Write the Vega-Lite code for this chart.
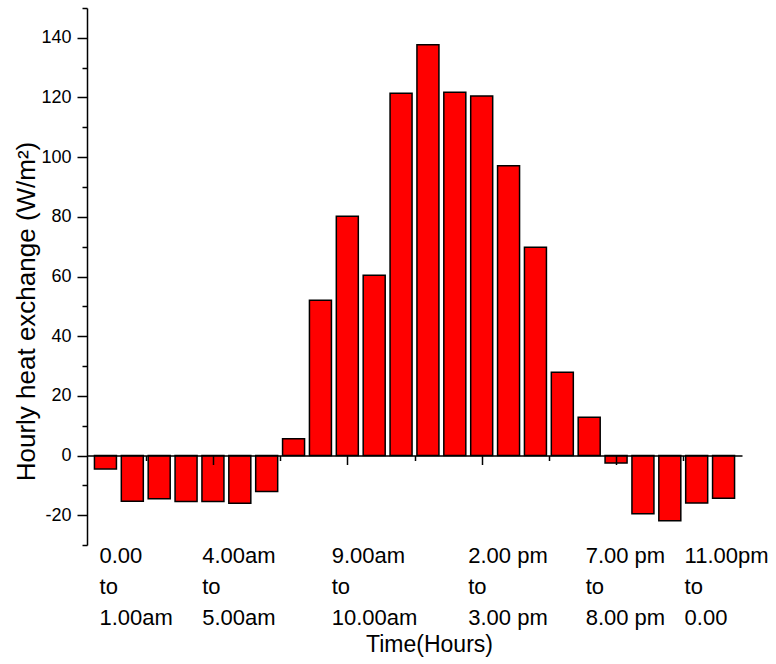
{
  "$schema": "https://vega.github.io/schema/vega-lite/v6.json",
  "width": 655,
  "height": 537,
  "autosize": "none",
  "padding": {"left": 87, "top": 8, "right": 34, "bottom": 119},
  "background": "white",
  "config": {"view": {"stroke": null}, "font": "Liberation Sans"},
  "datasets": {
    "heat": [
      {"hour": 1, "value": -4.5},
      {"hour": 2, "value": -15.3},
      {"hour": 3, "value": -14.5},
      {"hour": 4, "value": -15.4},
      {"hour": 5, "value": -15.4},
      {"hour": 6, "value": -16.0},
      {"hour": 7, "value": -12.1},
      {"hour": 8, "value": 5.6},
      {"hour": 9, "value": 52.0},
      {"hour": 10, "value": 80.2},
      {"hour": 11, "value": 60.4},
      {"hour": 12, "value": 121.4},
      {"hour": 13, "value": 137.7},
      {"hour": 14, "value": 121.8},
      {"hour": 15, "value": 120.5},
      {"hour": 16, "value": 97.1},
      {"hour": 17, "value": 69.8},
      {"hour": 18, "value": 27.9},
      {"hour": 19, "value": 12.8},
      {"hour": 20, "value": -2.5},
      {"hour": 21, "value": -19.5},
      {"hour": 22, "value": -21.9},
      {"hour": 23, "value": -15.9},
      {"hour": 24, "value": -14.3}
    ]
  },
  "resolve": {"axis": {"x": "independent", "y": "independent"}},
  "layer": [
    {
      "data": {"name": "heat"},
      "mark": {"type": "bar", "orient": "vertical", "width": 22, "fill": "#ff0000", "stroke": "black", "strokeWidth": 1.5},
      "encoding": {
        "x": {
          "field": "hour", "type": "quantitative",
          "scale": {"domain": [0.5, 24.5], "nice": false, "zero": false},
          "axis": {
            "orient": "bottom", "offset": -89.5, "zindex": 1,
            "values": [5, 10, 15, 20],
            "labels": false, "grid": false,
            "domainColor": "black", "domainWidth": 1.5,
            "tickColor": "black", "tickWidth": 1.5, "tickSize": 9,
            "title": "Time(Hours)", "titleFontSize": 23, "titleFontWeight": "normal",
            "titleColor": "black", "titleY": 196, "titleX": 342, "titleAlign": "center", "titleBaseline": "alphabetic"
          }
        },
        "y": {
          "field": "value", "type": "quantitative",
          "scale": {"domain": [-30, 150], "nice": false},
          "axis": {
            "orient": "left",
            "values": [-20, 0, 20, 40, 60, 80, 100, 120, 140],
            "labelExpr": "datum.value < 0 ? '-' + abs(datum.value) : datum.label",
            "grid": false,
            "domainColor": "black", "domainWidth": 1.5,
            "tickColor": "black", "tickWidth": 1.5, "tickSize": 10,
            "labelFontSize": 18, "labelColor": "black", "labelPadding": 6,
            "title": "Hourly heat exchange (W/m²)", "titleFontSize": 26, "titleFontWeight": "normal",
            "titleColor": "black", "titleX": -53, "titleY": 303, "titleAlign": "center", "titleBaseline": "alphabetic"
          }
        }
      }
    },
    {
      "data": {"name": "heat"},
      "mark": {"type": "point", "opacity": 0},
      "encoding": {
        "x": {
          "field": "hour", "type": "quantitative",
          "axis": {
            "orient": "bottom", "offset": -89.5, "zindex": 1,
            "values": [2.5, 7.5, 12.5, 17.5, 22.5],
            "labels": false, "grid": false, "domain": false, "title": null,
            "tickColor": "black", "tickWidth": 1.5, "tickSize": 5
          }
        },
        "y": {
          "field": "value", "type": "quantitative",
          "axis": {
            "orient": "left",
            "values": [-30, -10, 10, 30, 50, 70, 90, 110, 130, 150],
            "labels": false, "grid": false, "domain": false, "title": null,
            "tickColor": "black", "tickWidth": 1.5, "tickSize": 5
          }
        }
      }
    },
    {
      "data": {"values": [
        {"start": 0.78, "label": ["0.00", "to", "1.00am"]},
        {"start": 4.6, "label": ["4.00am", "to", "5.00am"]},
        {"start": 9.42, "label": ["9.00am", "to", "10.00am"]},
        {"start": 14.5, "label": ["2.00 pm", "to", "3.00 pm"]},
        {"start": 18.87, "label": ["7.00 pm", "to", "8.00 pm"]},
        {"start": 22.55, "label": ["11.00pm", "to", "0.00"]}
      ]},
      "mark": {"type": "text", "align": "left", "baseline": "alphabetic", "fontSize": 22, "lineHeight": 31, "dy": 18, "color": "black"},
      "encoding": {
        "x": {"field": "start", "type": "quantitative", "axis": null},
        "y": {"datum": -30, "axis": null},
        "text": {"field": "label"}
      }
    }
  ]
}
